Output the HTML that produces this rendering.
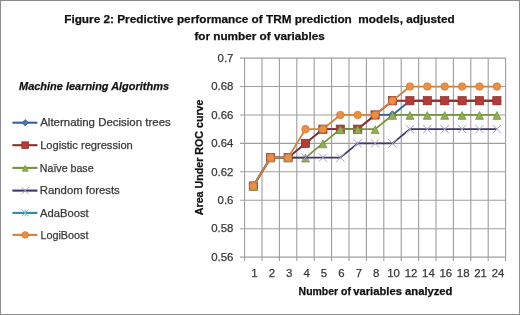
<!DOCTYPE html>
<html><head><meta charset="utf-8"><style>
html,body{margin:0;padding:0;background:#fff;}
body{width:520px;height:315px;overflow:hidden;font-family:"Liberation Sans",sans-serif;}
svg{display:block;filter:blur(0.4px);font-family:"Liberation Sans",sans-serif;}
text{stroke-width:0.25px;white-space:pre;}
</style></head><body>
<svg width="520" height="315" viewBox="0 0 520 315">
<rect x="0.5" y="0.5" width="519" height="314" fill="#fff" stroke="#8c8c8c" stroke-width="1"/>
<text x="64.20" y="22.70" font-size="11.6" font-weight="bold" fill="#111111" stroke="#111111" textLength="390.50" lengthAdjust="spacingAndGlyphs">Figure 2: Predictive performance of TRM prediction  models, adjusted</text>
<text x="194.40" y="39.50" font-size="11.6" font-weight="bold" fill="#111111" stroke="#111111" textLength="130.40" lengthAdjust="spacingAndGlyphs">for number of variables</text>
<line x1="240" y1="58.10" x2="505.60" y2="58.10" stroke="#9e9e9e" stroke-width="1.1"/>
<line x1="240" y1="86.53" x2="505.60" y2="86.53" stroke="#9e9e9e" stroke-width="1.1"/>
<line x1="240" y1="114.96" x2="505.60" y2="114.96" stroke="#9e9e9e" stroke-width="1.1"/>
<line x1="240" y1="143.39" x2="505.60" y2="143.39" stroke="#9e9e9e" stroke-width="1.1"/>
<line x1="240" y1="171.82" x2="505.60" y2="171.82" stroke="#9e9e9e" stroke-width="1.1"/>
<line x1="240" y1="200.25" x2="505.60" y2="200.25" stroke="#9e9e9e" stroke-width="1.1"/>
<line x1="240" y1="228.68" x2="505.60" y2="228.68" stroke="#9e9e9e" stroke-width="1.1"/>
<line x1="240" y1="257.11" x2="505.60" y2="257.11" stroke="#9e9e9e" stroke-width="1.1"/>
<line x1="244.60" y1="58.10" x2="244.60" y2="261.11" stroke="#9e9e9e" stroke-width="1.1"/>
<line x1="262.00" y1="58.10" x2="262.00" y2="261.11" stroke="#9e9e9e" stroke-width="1.1"/>
<line x1="279.40" y1="58.10" x2="279.40" y2="261.11" stroke="#9e9e9e" stroke-width="1.1"/>
<line x1="296.80" y1="58.10" x2="296.80" y2="261.11" stroke="#9e9e9e" stroke-width="1.1"/>
<line x1="314.20" y1="58.10" x2="314.20" y2="261.11" stroke="#9e9e9e" stroke-width="1.1"/>
<line x1="331.60" y1="58.10" x2="331.60" y2="261.11" stroke="#9e9e9e" stroke-width="1.1"/>
<line x1="349.00" y1="58.10" x2="349.00" y2="261.11" stroke="#9e9e9e" stroke-width="1.1"/>
<line x1="366.40" y1="58.10" x2="366.40" y2="261.11" stroke="#9e9e9e" stroke-width="1.1"/>
<line x1="383.80" y1="58.10" x2="383.80" y2="261.11" stroke="#9e9e9e" stroke-width="1.1"/>
<line x1="401.20" y1="58.10" x2="401.20" y2="261.11" stroke="#9e9e9e" stroke-width="1.1"/>
<line x1="418.60" y1="58.10" x2="418.60" y2="261.11" stroke="#9e9e9e" stroke-width="1.1"/>
<line x1="436.00" y1="58.10" x2="436.00" y2="261.11" stroke="#9e9e9e" stroke-width="1.1"/>
<line x1="453.40" y1="58.10" x2="453.40" y2="261.11" stroke="#9e9e9e" stroke-width="1.1"/>
<line x1="470.80" y1="58.10" x2="470.80" y2="261.11" stroke="#9e9e9e" stroke-width="1.1"/>
<line x1="488.20" y1="58.10" x2="488.20" y2="261.11" stroke="#9e9e9e" stroke-width="1.1"/>
<line x1="505.60" y1="58.10" x2="505.60" y2="261.11" stroke="#9e9e9e" stroke-width="1.1"/>
<text x="233.4" y="61.90" font-size="11.4" fill="#383838" stroke="#383838" text-anchor="end">0.7</text>
<text x="233.4" y="90.33" font-size="11.4" fill="#383838" stroke="#383838" text-anchor="end">0.68</text>
<text x="233.4" y="118.76" font-size="11.4" fill="#383838" stroke="#383838" text-anchor="end">0.66</text>
<text x="233.4" y="147.19" font-size="11.4" fill="#383838" stroke="#383838" text-anchor="end">0.64</text>
<text x="233.4" y="175.62" font-size="11.4" fill="#383838" stroke="#383838" text-anchor="end">0.62</text>
<text x="233.4" y="204.05" font-size="11.4" fill="#383838" stroke="#383838" text-anchor="end">0.6</text>
<text x="233.4" y="232.48" font-size="11.4" fill="#383838" stroke="#383838" text-anchor="end">0.58</text>
<text x="233.4" y="260.91" font-size="11.4" fill="#383838" stroke="#383838" text-anchor="end">0.56</text>
<text x="254.40" y="277.1" font-size="11.4" fill="#383838" stroke="#383838" text-anchor="middle">1</text>
<text x="271.80" y="277.1" font-size="11.4" fill="#383838" stroke="#383838" text-anchor="middle">2</text>
<text x="289.20" y="277.1" font-size="11.4" fill="#383838" stroke="#383838" text-anchor="middle">3</text>
<text x="306.60" y="277.1" font-size="11.4" fill="#383838" stroke="#383838" text-anchor="middle">4</text>
<text x="324.00" y="277.1" font-size="11.4" fill="#383838" stroke="#383838" text-anchor="middle">5</text>
<text x="341.40" y="277.1" font-size="11.4" fill="#383838" stroke="#383838" text-anchor="middle">6</text>
<text x="358.80" y="277.1" font-size="11.4" fill="#383838" stroke="#383838" text-anchor="middle">7</text>
<text x="376.20" y="277.1" font-size="11.4" fill="#383838" stroke="#383838" text-anchor="middle">8</text>
<text x="393.60" y="277.1" font-size="11.4" fill="#383838" stroke="#383838" text-anchor="middle">10</text>
<text x="411.00" y="277.1" font-size="11.4" fill="#383838" stroke="#383838" text-anchor="middle">12</text>
<text x="428.40" y="277.1" font-size="11.4" fill="#383838" stroke="#383838" text-anchor="middle">14</text>
<text x="445.80" y="277.1" font-size="11.4" fill="#383838" stroke="#383838" text-anchor="middle">16</text>
<text x="463.20" y="277.1" font-size="11.4" fill="#383838" stroke="#383838" text-anchor="middle">18</text>
<text x="480.60" y="277.1" font-size="11.4" fill="#383838" stroke="#383838" text-anchor="middle">21</text>
<text x="498.00" y="277.1" font-size="11.4" fill="#383838" stroke="#383838" text-anchor="middle">24</text>
<text x="298.60" y="295.00" font-size="10.6" font-weight="bold" fill="#111111" stroke="#111111" textLength="52.30" lengthAdjust="spacingAndGlyphs">Number of</text>
<text x="353.20" y="295.00" font-size="10.6" font-weight="bold" fill="#111111" stroke="#111111" textLength="99.30" lengthAdjust="spacingAndGlyphs">variables analyzed</text>
<text transform="translate(203.4,157.35) rotate(-90)" x="0" y="0" font-weight="bold" font-size="10.6" fill="#111111" stroke="#111111" text-anchor="middle" textLength="115.70" lengthAdjust="spacingAndGlyphs">Area Under ROC curve</text>
<polyline points="253.30,186.03 270.70,157.60 288.10,157.60 305.50,143.39 322.90,129.17 340.30,129.17 357.70,129.17 375.10,114.96 392.50,114.96 409.90,100.74 427.30,100.74 444.70,100.74 462.10,100.74 479.50,100.74 496.90,100.74" fill="none" stroke="#36609e" stroke-width="1.8" stroke-linejoin="round"/>
<path d="M253.30 181.83L257.50 186.03L253.30 190.23L249.10 186.03Z" fill="#4572b0" stroke="#355d96" stroke-width="0.7"/>
<path d="M270.70 153.40L274.90 157.60L270.70 161.80L266.50 157.60Z" fill="#4572b0" stroke="#355d96" stroke-width="0.7"/>
<path d="M288.10 153.40L292.30 157.60L288.10 161.80L283.90 157.60Z" fill="#4572b0" stroke="#355d96" stroke-width="0.7"/>
<path d="M305.50 139.19L309.70 143.39L305.50 147.59L301.30 143.39Z" fill="#4572b0" stroke="#355d96" stroke-width="0.7"/>
<path d="M322.90 124.97L327.10 129.17L322.90 133.37L318.70 129.17Z" fill="#4572b0" stroke="#355d96" stroke-width="0.7"/>
<path d="M340.30 124.97L344.50 129.17L340.30 133.37L336.10 129.17Z" fill="#4572b0" stroke="#355d96" stroke-width="0.7"/>
<path d="M357.70 124.97L361.90 129.17L357.70 133.37L353.50 129.17Z" fill="#4572b0" stroke="#355d96" stroke-width="0.7"/>
<path d="M375.10 110.76L379.30 114.96L375.10 119.16L370.90 114.96Z" fill="#4572b0" stroke="#355d96" stroke-width="0.7"/>
<path d="M392.50 110.76L396.70 114.96L392.50 119.16L388.30 114.96Z" fill="#4572b0" stroke="#355d96" stroke-width="0.7"/>
<path d="M409.90 96.54L414.10 100.74L409.90 104.94L405.70 100.74Z" fill="#4572b0" stroke="#355d96" stroke-width="0.7"/>
<path d="M427.30 96.54L431.50 100.74L427.30 104.94L423.10 100.74Z" fill="#4572b0" stroke="#355d96" stroke-width="0.7"/>
<path d="M444.70 96.54L448.90 100.74L444.70 104.94L440.50 100.74Z" fill="#4572b0" stroke="#355d96" stroke-width="0.7"/>
<path d="M462.10 96.54L466.30 100.74L462.10 104.94L457.90 100.74Z" fill="#4572b0" stroke="#355d96" stroke-width="0.7"/>
<path d="M479.50 96.54L483.70 100.74L479.50 104.94L475.30 100.74Z" fill="#4572b0" stroke="#355d96" stroke-width="0.7"/>
<path d="M496.90 96.54L501.10 100.74L496.90 104.94L492.70 100.74Z" fill="#4572b0" stroke="#355d96" stroke-width="0.7"/>
<polyline points="253.30,186.03 270.70,157.60 288.10,157.60 305.50,143.39 322.90,129.17 340.30,129.17 357.70,129.17 375.10,114.96 392.50,100.74 409.90,100.74 427.30,100.74 444.70,100.74 462.10,100.74 479.50,100.74 496.90,100.74" fill="none" stroke="#8c2d2b" stroke-width="1.8" stroke-linejoin="round"/>
<rect x="249.20" y="181.93" width="8.20" height="8.20" fill="#b43c38" stroke="#8e2c28" stroke-width="0.7"/>
<rect x="266.60" y="153.50" width="8.20" height="8.20" fill="#b43c38" stroke="#8e2c28" stroke-width="0.7"/>
<rect x="284.00" y="153.50" width="8.20" height="8.20" fill="#b43c38" stroke="#8e2c28" stroke-width="0.7"/>
<rect x="301.40" y="139.29" width="8.20" height="8.20" fill="#b43c38" stroke="#8e2c28" stroke-width="0.7"/>
<rect x="318.80" y="125.07" width="8.20" height="8.20" fill="#b43c38" stroke="#8e2c28" stroke-width="0.7"/>
<rect x="336.20" y="125.07" width="8.20" height="8.20" fill="#b43c38" stroke="#8e2c28" stroke-width="0.7"/>
<rect x="353.60" y="125.07" width="8.20" height="8.20" fill="#b43c38" stroke="#8e2c28" stroke-width="0.7"/>
<rect x="371.00" y="110.86" width="8.20" height="8.20" fill="#b43c38" stroke="#8e2c28" stroke-width="0.7"/>
<rect x="388.40" y="96.64" width="8.20" height="8.20" fill="#b43c38" stroke="#8e2c28" stroke-width="0.7"/>
<rect x="405.80" y="96.64" width="8.20" height="8.20" fill="#b43c38" stroke="#8e2c28" stroke-width="0.7"/>
<rect x="423.20" y="96.64" width="8.20" height="8.20" fill="#b43c38" stroke="#8e2c28" stroke-width="0.7"/>
<rect x="440.60" y="96.64" width="8.20" height="8.20" fill="#b43c38" stroke="#8e2c28" stroke-width="0.7"/>
<rect x="458.00" y="96.64" width="8.20" height="8.20" fill="#b43c38" stroke="#8e2c28" stroke-width="0.7"/>
<rect x="475.40" y="96.64" width="8.20" height="8.20" fill="#b43c38" stroke="#8e2c28" stroke-width="0.7"/>
<rect x="492.80" y="96.64" width="8.20" height="8.20" fill="#b43c38" stroke="#8e2c28" stroke-width="0.7"/>
<polyline points="253.30,186.03 270.70,157.60 288.10,157.60 305.50,157.60 322.90,143.39 340.30,129.17 357.70,129.17 375.10,129.17 392.50,114.96 409.90,114.96 427.30,114.96 444.70,114.96 462.10,114.96 479.50,114.96 496.90,114.96" fill="none" stroke="#76943c" stroke-width="1.8" stroke-linejoin="round"/>
<path d="M253.30 182.63L257.30 190.43L249.30 190.43Z" fill="#90b050" stroke="#6f8e38" stroke-width="0.7"/>
<path d="M270.70 154.20L274.70 162.00L266.70 162.00Z" fill="#90b050" stroke="#6f8e38" stroke-width="0.7"/>
<path d="M288.10 154.20L292.10 162.00L284.10 162.00Z" fill="#90b050" stroke="#6f8e38" stroke-width="0.7"/>
<path d="M305.50 154.20L309.50 162.00L301.50 162.00Z" fill="#90b050" stroke="#6f8e38" stroke-width="0.7"/>
<path d="M322.90 139.99L326.90 147.79L318.90 147.79Z" fill="#90b050" stroke="#6f8e38" stroke-width="0.7"/>
<path d="M340.30 125.77L344.30 133.57L336.30 133.57Z" fill="#90b050" stroke="#6f8e38" stroke-width="0.7"/>
<path d="M357.70 125.77L361.70 133.57L353.70 133.57Z" fill="#90b050" stroke="#6f8e38" stroke-width="0.7"/>
<path d="M375.10 125.77L379.10 133.57L371.10 133.57Z" fill="#90b050" stroke="#6f8e38" stroke-width="0.7"/>
<path d="M392.50 111.56L396.50 119.36L388.50 119.36Z" fill="#90b050" stroke="#6f8e38" stroke-width="0.7"/>
<path d="M409.90 111.56L413.90 119.36L405.90 119.36Z" fill="#90b050" stroke="#6f8e38" stroke-width="0.7"/>
<path d="M427.30 111.56L431.30 119.36L423.30 119.36Z" fill="#90b050" stroke="#6f8e38" stroke-width="0.7"/>
<path d="M444.70 111.56L448.70 119.36L440.70 119.36Z" fill="#90b050" stroke="#6f8e38" stroke-width="0.7"/>
<path d="M462.10 111.56L466.10 119.36L458.10 119.36Z" fill="#90b050" stroke="#6f8e38" stroke-width="0.7"/>
<path d="M479.50 111.56L483.50 119.36L475.50 119.36Z" fill="#90b050" stroke="#6f8e38" stroke-width="0.7"/>
<path d="M496.90 111.56L500.90 119.36L492.90 119.36Z" fill="#90b050" stroke="#6f8e38" stroke-width="0.7"/>
<polyline points="253.30,186.03 270.70,157.60 288.10,157.60 305.50,157.60 322.90,157.60 340.30,157.60 357.70,143.39 375.10,143.39 392.50,143.39 409.90,129.17 427.30,129.17 444.70,129.17 462.10,129.17 479.50,129.17 496.90,129.17" fill="none" stroke="#403472" stroke-width="1.8" stroke-linejoin="round"/>
<path d="M249.10 181.83L257.50 190.23M257.50 181.83L249.10 190.23" stroke="#aaa0c8" stroke-width="1" fill="none"/>
<path d="M266.50 153.40L274.90 161.80M274.90 153.40L266.50 161.80" stroke="#aaa0c8" stroke-width="1" fill="none"/>
<path d="M283.90 153.40L292.30 161.80M292.30 153.40L283.90 161.80" stroke="#aaa0c8" stroke-width="1" fill="none"/>
<path d="M301.30 153.40L309.70 161.80M309.70 153.40L301.30 161.80" stroke="#aaa0c8" stroke-width="1" fill="none"/>
<path d="M318.70 153.40L327.10 161.80M327.10 153.40L318.70 161.80" stroke="#aaa0c8" stroke-width="1" fill="none"/>
<path d="M336.10 153.40L344.50 161.80M344.50 153.40L336.10 161.80" stroke="#aaa0c8" stroke-width="1" fill="none"/>
<path d="M353.50 139.19L361.90 147.59M361.90 139.19L353.50 147.59" stroke="#aaa0c8" stroke-width="1" fill="none"/>
<path d="M370.90 139.19L379.30 147.59M379.30 139.19L370.90 147.59" stroke="#aaa0c8" stroke-width="1" fill="none"/>
<path d="M388.30 139.19L396.70 147.59M396.70 139.19L388.30 147.59" stroke="#aaa0c8" stroke-width="1" fill="none"/>
<path d="M405.70 124.97L414.10 133.37M414.10 124.97L405.70 133.37" stroke="#aaa0c8" stroke-width="1" fill="none"/>
<path d="M423.10 124.97L431.50 133.37M431.50 124.97L423.10 133.37" stroke="#aaa0c8" stroke-width="1" fill="none"/>
<path d="M440.50 124.97L448.90 133.37M448.90 124.97L440.50 133.37" stroke="#aaa0c8" stroke-width="1" fill="none"/>
<path d="M457.90 124.97L466.30 133.37M466.30 124.97L457.90 133.37" stroke="#aaa0c8" stroke-width="1" fill="none"/>
<path d="M475.30 124.97L483.70 133.37M483.70 124.97L475.30 133.37" stroke="#aaa0c8" stroke-width="1" fill="none"/>
<path d="M492.70 124.97L501.10 133.37M501.10 124.97L492.70 133.37" stroke="#aaa0c8" stroke-width="1" fill="none"/>
<polyline points="253.30,186.03 270.70,157.60 288.10,157.60 305.50,129.17 322.90,129.17 340.30,114.96 357.70,114.96 375.10,114.96 392.50,100.74 409.90,86.53 427.30,86.53 444.70,86.53 462.10,86.53 479.50,86.53 496.90,86.53" fill="none" stroke="#cf833f" stroke-width="1.8" stroke-linejoin="round"/>
<circle cx="253.30" cy="186.03" r="3.80" fill="#ec8f40" stroke="#d27a34" stroke-width="0.7"/>
<circle cx="270.70" cy="157.60" r="3.80" fill="#ec8f40" stroke="#d27a34" stroke-width="0.7"/>
<circle cx="288.10" cy="157.60" r="3.80" fill="#ec8f40" stroke="#d27a34" stroke-width="0.7"/>
<circle cx="305.50" cy="129.17" r="3.80" fill="#ec8f40" stroke="#d27a34" stroke-width="0.7"/>
<circle cx="322.90" cy="129.17" r="3.80" fill="#ec8f40" stroke="#d27a34" stroke-width="0.7"/>
<circle cx="340.30" cy="114.96" r="3.80" fill="#ec8f40" stroke="#d27a34" stroke-width="0.7"/>
<circle cx="357.70" cy="114.96" r="3.80" fill="#ec8f40" stroke="#d27a34" stroke-width="0.7"/>
<circle cx="375.10" cy="114.96" r="3.80" fill="#ec8f40" stroke="#d27a34" stroke-width="0.7"/>
<circle cx="392.50" cy="100.74" r="3.80" fill="#ec8f40" stroke="#d27a34" stroke-width="0.7"/>
<circle cx="409.90" cy="86.53" r="3.80" fill="#ec8f40" stroke="#d27a34" stroke-width="0.7"/>
<circle cx="427.30" cy="86.53" r="3.80" fill="#ec8f40" stroke="#d27a34" stroke-width="0.7"/>
<circle cx="444.70" cy="86.53" r="3.80" fill="#ec8f40" stroke="#d27a34" stroke-width="0.7"/>
<circle cx="462.10" cy="86.53" r="3.80" fill="#ec8f40" stroke="#d27a34" stroke-width="0.7"/>
<circle cx="479.50" cy="86.53" r="3.80" fill="#ec8f40" stroke="#d27a34" stroke-width="0.7"/>
<circle cx="496.90" cy="86.53" r="3.80" fill="#ec8f40" stroke="#d27a34" stroke-width="0.7"/>
<text x="19.00" y="89.50" font-size="11.4" font-weight="bold" font-style="italic" fill="#111111" stroke="#111111" textLength="150.00" lengthAdjust="spacingAndGlyphs">Machine learning Algorithms</text>
<line x1="12.4" y1="122.70" x2="37.4" y2="122.70" stroke="#36609e" stroke-width="2.1"/>
<path d="M25.20 119.50L28.40 122.70L25.20 125.90L22.00 122.70Z" fill="#4572b0" stroke="#355d96" stroke-width="0.7"/>
<text x="40.20" y="126.40" font-size="11" fill="#383838" stroke="#383838" textLength="130.60" lengthAdjust="spacingAndGlyphs">Alternating Decision trees</text>
<line x1="12.4" y1="145.20" x2="37.4" y2="145.20" stroke="#8c2d2b" stroke-width="2.1"/>
<rect x="21.80" y="141.80" width="6.80" height="6.80" fill="#b43c38" stroke="#8e2c28" stroke-width="0.7"/>
<text x="40.20" y="149.40" font-size="11" fill="#383838" stroke="#383838" textLength="92.60" lengthAdjust="spacingAndGlyphs">Logistic regression</text>
<line x1="12.4" y1="167.90" x2="37.4" y2="167.90" stroke="#76943c" stroke-width="2.1"/>
<path d="M25.20 165.35L28.20 171.20L22.20 171.20Z" fill="#90b050" stroke="#6f8e38" stroke-width="0.7"/>
<text x="39.80" y="171.80" font-size="11" fill="#383838" stroke="#383838" textLength="53.80" lengthAdjust="spacingAndGlyphs">Naïve base</text>
<line x1="12.4" y1="190.60" x2="37.4" y2="190.60" stroke="#403472" stroke-width="2.1"/>
<path d="M21.70 187.10L28.70 194.10M28.70 187.10L21.70 194.10" stroke="#aaa0c8" stroke-width="1" fill="none"/>
<text x="39.80" y="194.25" font-size="11" fill="#383838" stroke="#383838" textLength="80.00" lengthAdjust="spacingAndGlyphs">Random forests</text>
<line x1="12.4" y1="212.90" x2="37.4" y2="212.90" stroke="#33899f" stroke-width="2.1"/>
<path d="M21.70 209.40L28.70 216.40M28.70 209.40L21.70 216.40M25.20 209.40L25.20 216.40" stroke="#6cc0d6" stroke-width="1" fill="none"/>
<text x="40.00" y="216.50" font-size="11" fill="#383838" stroke="#383838" textLength="48.60" lengthAdjust="spacingAndGlyphs">AdaBoost</text>
<line x1="12.4" y1="234.90" x2="37.4" y2="234.90" stroke="#cf833f" stroke-width="2.1"/>
<circle cx="25.20" cy="234.90" r="3.30" fill="#ec8f40" stroke="#d27a34" stroke-width="0.7"/>
<text x="40.40" y="239.00" font-size="11" fill="#383838" stroke="#383838" textLength="48.00" lengthAdjust="spacingAndGlyphs">LogiBoost</text>
</svg>
</body></html>
